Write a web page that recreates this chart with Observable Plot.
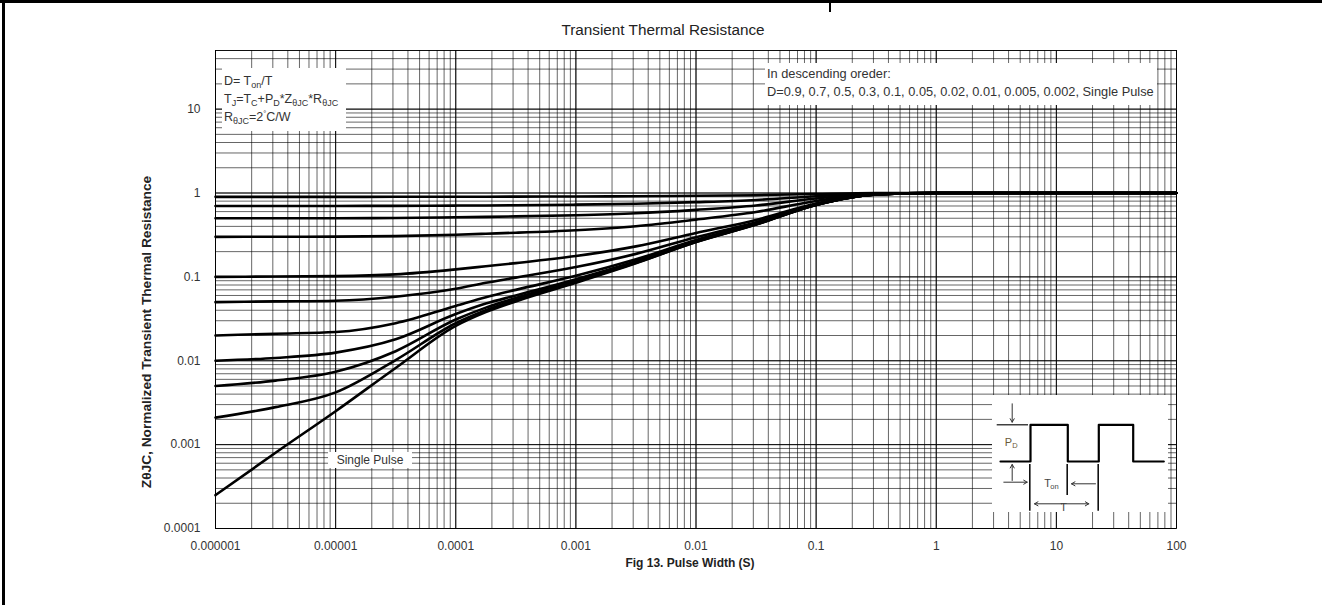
<!DOCTYPE html>
<html>
<head>
<meta charset="utf-8">
<script src="https://cdn.jsdelivr.net/npm/d3@7"></script>
<script src="https://cdn.jsdelivr.net/npm/@observablehq/plot@0.6"></script>
<style>
  html, body { margin: 0; padding: 0; background: #fff; }
  #wrap { position: relative; width: 1322px; height: 605px; overflow: hidden; background: #fff;
          font-family: "Liberation Sans", Arial, sans-serif; color: #333; }
  .abs { position: absolute; }
  .box { position: absolute; background: #fff; }
  sub { font-size: 0.72em; vertical-align: -0.28em; line-height: 0; }
</style>
</head>
<body>
<div id="wrap">
  <div class="abs" style="left:2px;top:0;width:3px;height:605px;background:#000"></div>
  <div class="abs" style="left:0;top:0;width:1322px;height:3px;background:#000"></div>
  <div class="abs" style="left:829px;top:0;width:2px;height:12px;background:#000"></div>
</div>
<script>
// ---------- data ----------
const times = [1e-6, 3.16e-6, 1e-5, 3.16e-5, 1e-4, 1.78e-4, 3.16e-4, 1e-3, 3.16e-3, 1e-2, 3.16e-2, 0.1, 0.316, 1, 10, 100];
const d090 = [0.9, 0.9, 0.9, 0.901, 0.903, 0.904, 0.905, 0.909, 0.915, 0.926, 0.942, 0.972, 0.996, 1, 1, 1];
const d070 = [0.7, 0.7, 0.701, 0.702, 0.708, 0.711, 0.715, 0.726, 0.744, 0.778, 0.826, 0.916, 0.988, 1, 1, 1];
const d050 = [0.5, 0.5, 0.501, 0.504, 0.513, 0.519, 0.526, 0.543, 0.573, 0.63, 0.71, 0.86, 0.98, 1, 1, 1];
const d030 = [0.3, 0.301, 0.302, 0.306, 0.318, 0.327, 0.336, 0.36, 0.402, 0.482, 0.594, 0.804, 0.972, 1, 1, 1];
const d010 = [0.1, 0.101, 0.102, 0.107, 0.123, 0.134, 0.146, 0.177, 0.231, 0.334, 0.478, 0.748, 0.964, 1, 1, 1];
const d005 = [0.05, 0.051, 0.052, 0.058, 0.072, 0.085, 0.098, 0.131, 0.188, 0.297, 0.449, 0.734, 0.962, 1, 1, 1];
const d002 = [0.02, 0.021, 0.022, 0.028, 0.045, 0.057, 0.07, 0.103, 0.162, 0.275, 0.432, 0.726, 0.961, 1, 1, 1];
const d001 = [0.01, 0.0108, 0.0125, 0.018, 0.036, 0.048, 0.06, 0.094, 0.154, 0.267, 0.426, 0.723, 0.96, 1, 1, 1];
const d0005 = [0.005, 0.0058, 0.0074, 0.013, 0.031, 0.043, 0.056, 0.09, 0.149, 0.264, 0.423, 0.721, 0.96, 1, 1, 1];
const d0002 = [0.0021, 0.0028, 0.0042, 0.0102, 0.028, 0.04, 0.053, 0.087, 0.147, 0.261, 0.421, 0.72, 0.96, 1, 1, 1];
const single = [0.00025, 0.0008, 0.0025, 0.0082, 0.026, 0.038, 0.051, 0.085, 0.145, 0.26, 0.42, 0.72, 0.96, 1, 1, 1];

const seriesNames = ["0.9", "0.7", "0.5", "0.3", "0.1", "0.05", "0.02", "0.01", "0.005", "0.002", "Single Pulse"];
const seriesValues = [d090, d070, d050, d030, d010, d005, d002, d001, d0005, d0002, single];

const xTicks = [1e-6, 1e-5, 1e-4, 1e-3, 1e-2, 1e-1, 1, 10, 100];
const xTickLabels = ["0.000001", "0.00001", "0.0001", "0.001", "0.01", "0.1", "1", "10", "100"];
const yTicks = [1e-4, 1e-3, 1e-2, 1e-1, 1, 10];
const yTickLabels = ["0.0001", "0.001", "0.01", "0.1", "1", "10"];

const titleText = "Transient Thermal Resistance";
const xLabel = "Fig 13. Pulse Width (S)";
const yLabel = "Z\u03B8JC, Normalized Transient Thermal Resistance";

// inset (pulse diagram) in its own local units
const waveX = [8, 38, 38, 75.3, 75.3, 106.3, 106.3, 140.7, 140.7, 171.3];
const waveY = [66, 66, 29.3, 29.3, 66, 66, 29.3, 29.3, 66, 66];

// ---------- build ----------
const rows = [];
seriesNames.forEach((name, i) => {
  times.forEach((t, j) => rows.push({series: name, t, z: seriesValues[i][j]}));
});
const xTickRows = xTicks.map((v, i) => ({v, label: xTickLabels[i]}));
const yTickRows = yTicks.map((v, i) => ({v, label: yTickLabels[i]}));

const wrap = document.getElementById("wrap");

const chart = Plot.plot({
  width: 1322,
  height: 605,
  marginLeft: 215,
  marginRight: 146,
  marginTop: 50,
  marginBottom: 77,
  style: {fontFamily: "'Liberation Sans', Arial, sans-serif", fontSize: "12px", color: "#333", background: "transparent"},
  x: {type: "log", domain: [1e-6, 100], axis: null},
  y: {type: "log", domain: [1e-4, 50], axis: null},
  marks: [
    Plot.gridX({ticks: 100, stroke: "#000", strokeOpacity: 0.6, strokeWidth: 1}),
    Plot.gridY({ticks: 100, stroke: "#000", strokeOpacity: 0.6, strokeWidth: 1}),
    Plot.gridX({ticks: xTicks, stroke: "#000", strokeOpacity: 0.9}),
    Plot.gridY({ticks: yTicks, stroke: "#000", strokeOpacity: 0.9}),
    Plot.frame({stroke: "#000", strokeOpacity: 0.85}),
    Plot.text(xTickRows, {x: "v", text: "label", frameAnchor: "bottom", dy: 21, fill: "#333", fontSize: 12}),
    Plot.text(yTickRows, {y: "v", text: "label", frameAnchor: "left", dx: -15, textAnchor: "end", fill: "#333", fontSize: 12}),
    Plot.line(rows, {x: "t", y: "z", z: "series", stroke: "#000", strokeWidth: 2.6, curve: "monotone-x"})
  ]
});
chart.style.position = "absolute";
chart.style.left = "0px";
chart.style.top = "0px";
wrap.appendChild(chart);

function addDiv(html, css, cls) {
  const d = document.createElement("div");
  d.className = cls || "abs";
  d.style.cssText = css;
  d.innerHTML = html;
  wrap.appendChild(d);
  return d;
}

// title and axis labels
addDiv(titleText, "left:663px;top:30px;transform:translate(-50%,-50%);white-space:nowrap;font-size:15.3px;color:#222;");
addDiv(xLabel, "left:690px;top:563px;transform:translate(-50%,-50%);white-space:nowrap;font-size:12px;font-weight:bold;color:#222;");
addDiv(yLabel, "left:146px;top:332px;transform:translate(-50%,-50%) rotate(-90deg);white-space:nowrap;font-size:13.7px;font-weight:bold;color:#222;");

// legend box top-left
addDiv(
  '<div style="position:absolute;left:2px;top:6px;white-space:nowrap;">D= T<sub>on</sub>/T</div>' +
  '<div style="position:absolute;left:2px;top:24px;white-space:nowrap;">T<sub>J</sub>=T<sub>C</sub>+P<sub>D</sub>*Z<sub>\u03B8JC</sub>*R<sub>\u03B8JC</sub></div>' +
  '<div style="position:absolute;left:2px;top:41px;white-space:nowrap;">R<sub>\u03B8JC</sub>=2<sup style="font-size:0.6em">\u00B0</sup>C/W</div>',
  "left:222px;top:68px;width:124px;height:63px;font-size:12.5px;color:#333;", "box");

// legend box top-right
addDiv(
  '<div style="position:absolute;left:2px;top:3px;white-space:nowrap;">In descending oreder:</div>' +
  '<div style="position:absolute;left:2px;top:21px;white-space:nowrap;">D=0.9, 0.7, 0.5, 0.3, 0.1, 0.05, 0.02, 0.01, 0.005, 0.002, Single Pulse</div>',
  "left:765px;top:63px;width:392px;height:42px;font-size:12.8px;color:#333;", "box");

// single pulse label
addDiv("Single Pulse",
  "left:328px;top:452px;width:84px;height:16px;font-size:12px;line-height:16px;text-align:center;color:#333;", "box");

// inset pulse diagram
const wave = waveX.map((x, i) => ({x, y: waveY[i]}));
const inset = Plot.plot({
  width: 176,
  height: 117,
  margin: 0,
  style: {fontFamily: "'Liberation Sans', Arial, sans-serif", background: "#fff"},
  x: {domain: [0, 176], axis: null},
  y: {domain: [0, 117], reverse: true, axis: null},
  marks: [
    Plot.line(wave, {x: "x", y: "y", stroke: "#000", strokeWidth: 2.2}),
    Plot.ruleY([29.3], {x1: 4.7, x2: 36, stroke: "#111", strokeWidth: 1.2}),
    Plot.ruleX([37.3, 105.7], {y1: 69, y2: 115.7, stroke: "#111", strokeWidth: 1.6}),
    Plot.ruleX([74.7], {y1: 69, y2: 100, stroke: "#111", strokeWidth: 1.6}),
    Plot.arrow([{x1: 19.7, y1: 8.3, x2: 19.7, y2: 26.7}, {x1: 19.7, y1: 85, x2: 19.7, y2: 69},
                {x1: 11.3, y1: 86.7, x2: 34.7, y2: 86.7}, {x1: 103, y1: 88.3, x2: 79, y2: 88.3},
                {x1: 69, y1: 108.3, x2: 42, y2: 108.3}, {x1: 69, y1: 108.3, x2: 96.3, y2: 108.3}],
      {x1: "x1", y1: "y1", x2: "x2", y2: "y2", stroke: "#333", strokeWidth: 1, headLength: 6}),
    Plot.text(["P"], {x: 16, y: 47, fontSize: 11, fill: "#6b5a3a"}),
    Plot.text(["D"], {x: 22.5, y: 50, fontSize: 7.5, fill: "#6b5a3a"}),
    Plot.text(["T"], {x: 55, y: 88, fontSize: 11, fill: "#444"}),
    Plot.text(["on"], {x: 62, y: 91, fontSize: 7.5, fill: "#444"}),
    Plot.text(["T"], {x: 71, y: 112, fontSize: 11, fill: "#444"})
  ]
});
inset.style.position = "absolute";
inset.style.left = "992px";
inset.style.top = "395px";
wrap.appendChild(inset);
</script>
</body>
</html>
